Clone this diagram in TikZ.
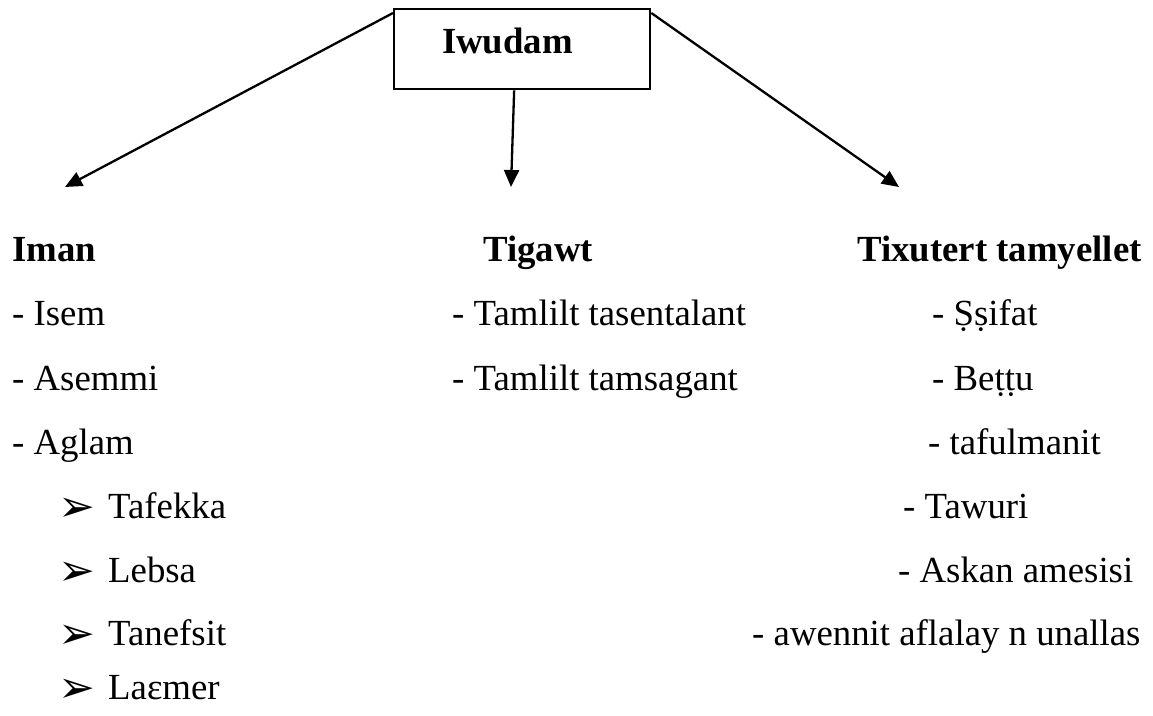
\documentclass[tikz,border=0pt]{standalone}
\usepackage{fontspec}
\setmainfont{Liberation Serif}
\newfontfamily\symfont{DejaVu Sans}
\usetikzlibrary{arrows.meta,calc}
\begin{document}
\begin{tikzpicture}[x=1pt,y=-1pt,
  txt/.style={anchor=base west,inner sep=0pt,font=\fontsize{36.8}{44}\selectfont},
  hd/.style={txt,font=\fontsize{36.8}{44}\selectfont\bfseries},
  bul/.style={anchor=base west,inner sep=0pt,font=\fontsize{44}{50}\symfont},
  conn/.style={line width=2.3pt,-{Triangle[length=17pt,width=15pt]}}]
\useasboundingbox (0,0) rectangle (1153,715);
\node[draw,line width=2.3pt,minimum width=256pt,minimum height=80pt,anchor=north west,inner sep=0pt] (root) at (393,8) {};
\node[anchor=base,inner sep=0pt,font=\fontsize{36.8}{44}\selectfont\bfseries] (rootlbl) at (507.5,53) {Iwudam};
\coordinate (tipL) at (65,187);
\coordinate (tipM) at (511,187);
\coordinate (tipR) at (899,187);
\draw[conn] ($(root.north west)+(0,5)$) -- (tipL);
\draw[conn] ($(root.south)+(-8,0)$) -- (tipM);
\draw[conn] ($(root.north east)+(0,5)$) -- (tipR);
% left column
\node[hd] (iman) at (12,261) {Iman};
\node[txt] (l1) at (12,325) {- Isem};
\node[txt] (l2) at (12,390) {- Asemmi};
\node[txt] (l3) at (12,454) {- Aglam};
\node[bul] (b1) at (58,521) {➢};
\node[txt] (l4) at (108,518) {Tafekka};
\node[bul] (b2) at (58,585) {➢};
\node[txt] (l5) at (108,582) {Lebsa};
\node[bul] (b3) at (58,648) {➢};
\node[txt] (l6) at (108,645) {Tanefsit};
\node[bul] (b4) at (58,702) {➢};
\node[txt] (l7) at (108,699) {Laɛmer};
% middle column
\node[hd] (tigawt) at (483,261) {Tigawt};
\node[txt] (m1) at (452,325) {- Tamlilt tasentalant};
\node[txt] (m2) at (452,390) {- Tamlilt tamsagant};
% right column
\node[hd] (tix) at (857,261) {Tixutert tamyellet};
\node[txt] (r1) at (932,325) {- Ṣṣifat};
\node[txt] (r2) at (932,390) {- Beṭṭu};
\node[txt] (r3) at (928,454) {- tafulmanit};
\node[txt] (r4) at (903,518) {- Tawuri};
\node[txt] (r5) at (898,582) {- Askan amesisi};
\node[txt] (r6) at (752,645) {- awennit aflalay n unallas};
\end{tikzpicture}
\end{document}
